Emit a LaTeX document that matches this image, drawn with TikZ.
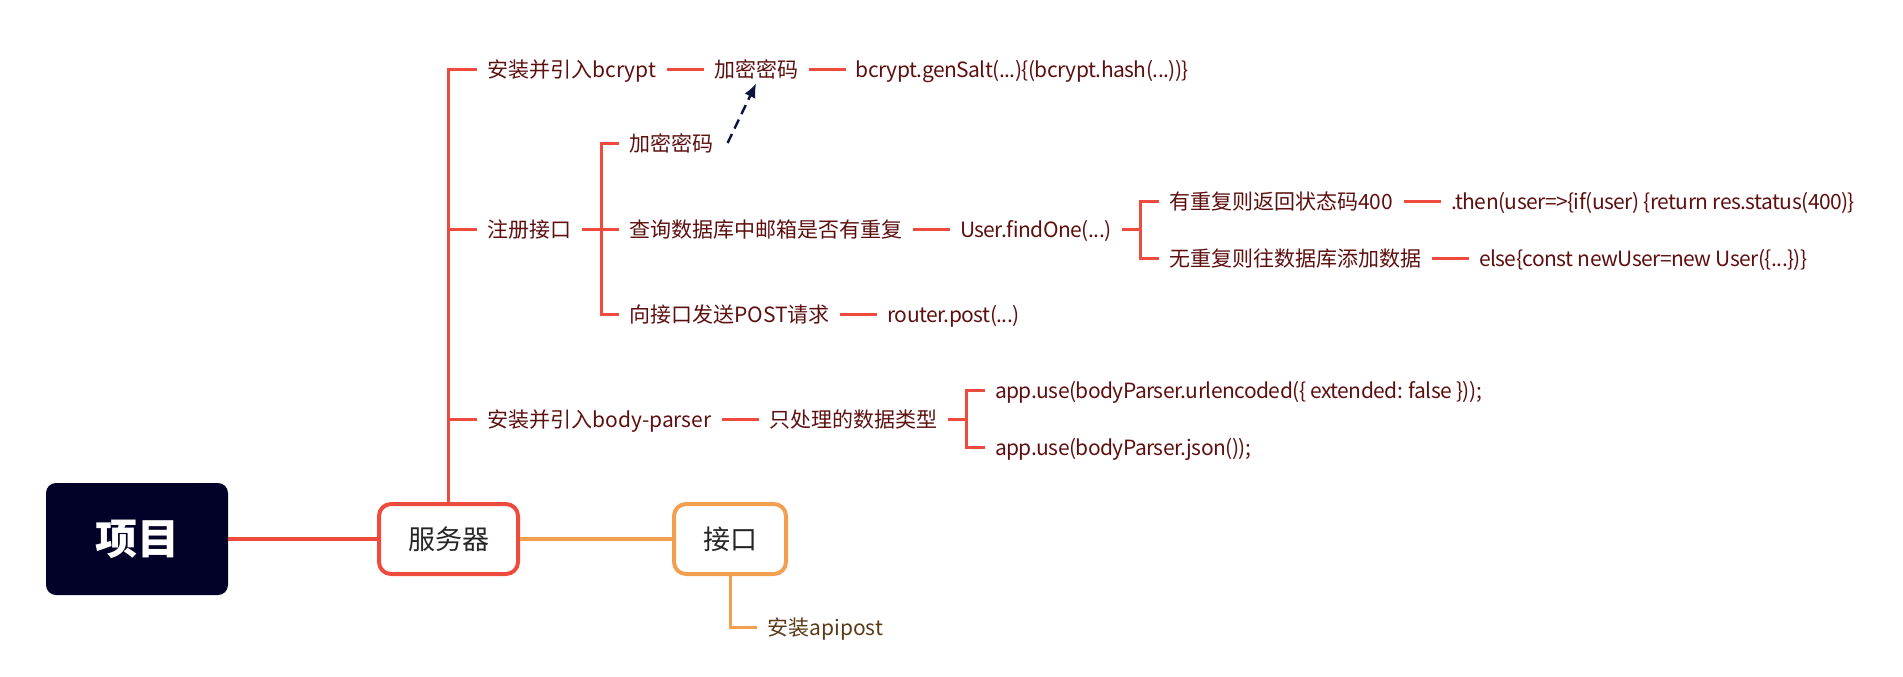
\documentclass[tikz,border=0pt]{standalone}
\usepackage{fontspec}
\setmainfont{Noto Sans CJK SC}
\newfontfamily\codefont{Noto Sans CJK SC}[LetterSpace=-2.5]
\usetikzlibrary{positioning,arrows.meta}

\definecolor{branchred}{HTML}{EE4A3D}
\definecolor{apiorange}{HTML}{F2A050}
\definecolor{leaftext}{HTML}{5E1010}
\definecolor{apitext}{HTML}{5B3A16}
\definecolor{rootnavy}{HTML}{020228}
\definecolor{arrownavy}{HTML}{0B1340}

\tikzset{
  leaf/.style={inner xsep=5pt, inner ysep=3pt, text height=8pt, text depth=0pt,
    font=\fontsize{10.5pt}{12pt}\selectfont, text=leaftext},
  code/.style={leaf, font=\fontsize{10.5pt}{12pt}\codefont},
  rootbox/.style={fill=rootnavy, rounded corners=5pt, minimum width=91pt, minimum height=56pt,
    text=white, font=\fontsize{21pt}{24pt}\selectfont\bfseries},
  serverbox/.style={draw=branchred, line width=2pt, fill=white, rounded corners=6pt,
    minimum width=69.5pt, minimum height=35pt, font=\fontsize{13.5pt}{16pt}\selectfont, text=black!85},
  apibox/.style={serverbox, draw=apiorange, minimum width=56pt},
  redline/.style={draw=branchred, line width=1.5pt},
  orangeline/.style={draw=apiorange, line width=1.5pt},
  dasharrow/.style={draw=arrownavy, line width=1.2pt, dash pattern=on 5pt off 3pt,
    -{Latex[length=7pt,width=6pt]}}
}

\begin{document}
\begin{tikzpicture}[x=0.5pt,y=-0.5pt,node distance=18.5pt]
\useasboundingbox (0,0) rectangle (1903,676);
% main boxes
\node[rootbox] (proj) at (137,539) {项目};
\node[serverbox] (srv) at (448.5,539) {服务器};
\node[apibox] (api) at (730,539) {接口};
\draw[redline, line width=2pt] (proj) -- (srv);
\draw[orangeline, line width=2pt] (srv) -- (api);

% bcrypt
\node[leaf, anchor=west] (bcrypt) at (477,69) {安装并引入bcrypt};
\node[leaf, right=of bcrypt] (enc) {加密密码};
\node[code, right=of enc] (salt) {bcrypt.genSalt(...)\{(bcrypt.hash(...))\}};
\draw[redline] (srv.north) |- (bcrypt.west);
\draw[redline] (bcrypt) -- (enc);
\draw[redline] (enc) -- (salt);

% register
\node[leaf, anchor=west] (reg) at (477,229) {注册接口};
\node[leaf, right=of reg] (query) {查询数据库中邮箱是否有重复};
\node[leaf, anchor=west] (enc2) at ([yshift=43pt]query.west) {加密密码};
\node[leaf, anchor=west] (post) at ([yshift=-42.5pt]query.west) {向接口发送POST请求};
\node[code, right=of post] (router) {router.post(...)};
\node[code, right=of query] (find) {User.findOne(...)};
\node[leaf, anchor=west] (dup) at ([shift={(37,-28)}]find.east) {有重复则返回状态码400};
\node[code, right=of dup] (dupcode) {.then(user=>\{if(user) \{return res.status(400)\}};
\node[leaf, anchor=west] (nodup) at ([shift={(37,29)}]find.east) {无重复则往数据库添加数据};
\node[code, right=of nodup] (nodupcode) {else\{const newUser=new User(\{...\})\}};
\draw[redline] (srv.north) |- (reg.west);
\draw[redline] (reg.east) -- ++(20,0) coordinate (regfork) |- (enc2.west);
\draw[redline] (regfork) |- (query.west);
\draw[redline] (regfork) |- (post.west);
\draw[redline] (post) -- (router);
\draw[redline] (query) -- (find);
\draw[redline] (find.east) -- ++(19,0) coordinate (findfork) |- (dup.west);
\draw[redline] (findfork) |- (nodup.west);
\draw[redline] (dup) -- (dupcode);
\draw[redline] (nodup) -- (nodupcode);
\draw[dasharrow] ([xshift=2pt]enc2.east) -- (enc.south);

% body-parser
\node[leaf, anchor=west] (bp) at (477,419) {安装并引入body-parser};
\node[leaf, right=of bp] (types) {只处理的数据类型};
\node[code, anchor=west] (urlenc) at ([shift={(37,-29)}]types.east) {app.use(bodyParser.urlencoded(\{ extended: false \}));};
\node[code, anchor=west] (json) at ([shift={(37,28)}]types.east) {app.use(bodyParser.json());};
\draw[redline] (srv.north) |- (bp.west);
\draw[redline] (bp) -- (types);
\draw[redline] (types.east) -- ++(19,0) coordinate (typesfork) |- (urlenc.west);
\draw[redline] (typesfork) |- (json.west);

% api
\node[leaf, text=apitext, anchor=west] (apipost) at (757,627) {安装apipost};
\draw[orangeline] (api.south) |- (apipost.west);
\end{tikzpicture}
\end{document}
